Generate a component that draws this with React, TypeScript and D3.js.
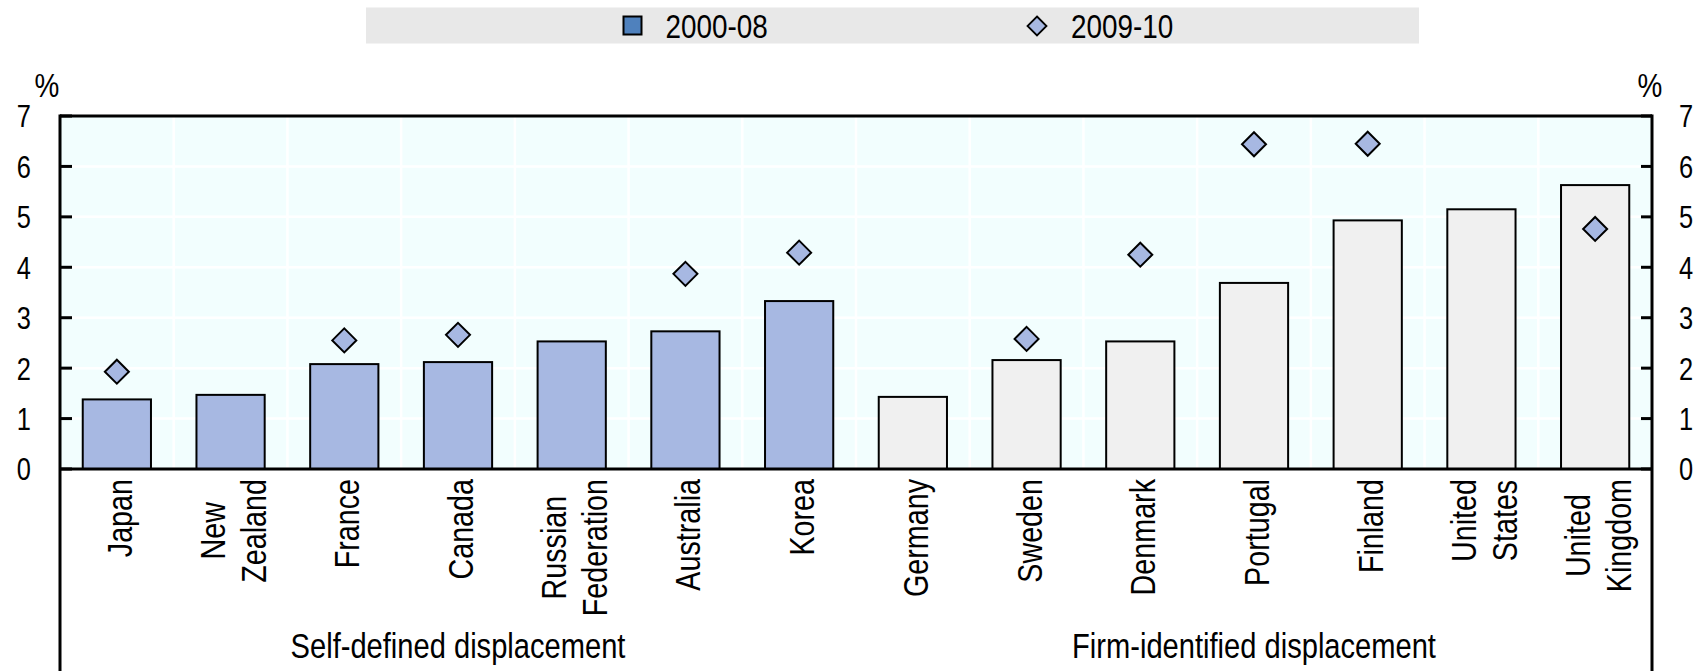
import React, { useMemo } from 'react';
import * as d3 from 'd3';

// chart data
const countries = [
  'Japan', 'New\nZealand', 'France', 'Canada', 'Russian\nFederation', 'Australia', 'Korea',
  'Germany', 'Sweden', 'Denmark', 'Portugal', 'Finland', 'United\nStates', 'United\nKingdom',
];
const groupNames = ['Self-defined displacement', 'Firm-identified displacement'];
const groupSizes = [7, 7];
const rate2000_08 = [1.38, 1.47, 2.08, 2.12, 2.53, 2.73, 3.33, 1.43, 2.16, 2.53, 3.69, 4.93, 5.15, 5.63];
const rate2009_10: (number | null)[] = [1.93, null, 2.55, 2.66, null, 3.87, 4.29, null, 2.58, 4.25, 6.44, 6.45, null, 4.76];
const yTicks = [0, 1, 2, 3, 4, 5, 6, 7];
const legendLabels = ['2000-08', '2009-10'];

const W = 1708;
const H = 671;
const plotLeft = 60;
const plotRight = 1652;
const plotTop = 116;
const zeroY = 469;
const labelTop = 479;
const lineGap = 41;

const FONT = '"Liberation Sans", Arial, sans-serif';
const NARROW = 0.82;
const FS = 34;
const LABEL_FS = 35;
const GROUP_FS = 35.5;

const selfFill = '#A7B8E2';
const firmFill = '#F0F0F0';
const plotBg = '#F2FEFE';

let ctx: CanvasRenderingContext2D | null = null;
function textWidth(t: string, size: number) {
  if (!ctx) ctx = document.createElement('canvas').getContext('2d');
  if (!ctx) return t.length * size * 0.5;
  ctx.font = `${size}px "Liberation Sans", Arial, sans-serif`;
  return ctx.measureText(t).width * NARROW;
}

// narrow text: scale glyphs horizontally in the text's own frame
const NText = ({ x, y, anchor = 'start', size = FS, rotate = 0, dy, children }: any) => (
  <g transform={`translate(${x},${y}) rotate(${rotate}) scale(${NARROW},1)`}>
    <text textAnchor={anchor} dy={dy} fontSize={size} fontFamily={FONT} fill="#000">
      {children}
    </text>
  </g>
);

const diamond = (cx: number, cy: number, r: number) =>
  `M${cx},${cy - r}L${cx + r},${cy}L${cx},${cy + r}L${cx - r},${cy}Z`;

export default function App() {
  const x = useMemo(
    () => d3.scaleBand<string>().domain(countries).range([plotLeft, plotRight]).paddingInner(0.4).paddingOuter(0.2),
    []
  );
  const y = useMemo(() => d3.scaleLinear().domain([0, 7]).range([zeroY, plotTop]), []);
  const step = x.step();
  const boundaries = d3.range(1, countries.length).map(k => plotLeft + k * step);
  const groupEnds = d3.cumsum(groupSizes);

  return (
    <svg width={W} height={H} style={{ position: 'absolute', left: 0, top: 0, background: '#fff' }}>
      {/* legend */}
      <rect x={366} y={7.5} width={1053} height={36} fill="#E8E8E8" />
      <rect x={623.5} y={16.5} width={18} height={18} fill="#4F81BD" stroke="#000" strokeWidth={2} />
      <NText x={665.5} y={37.5}>{legendLabels[0]}</NText>
      <path d={diamond(1037, 26, 9.5)} fill={selfFill} stroke="#000" strokeWidth={1.8} />
      <NText x={1071} y={37.5}>{legendLabels[1]}</NText>

      {/* plot background and grid */}
      <rect x={plotLeft} y={plotTop} width={plotRight - plotLeft} height={zeroY - plotTop} fill={plotBg} />
      {yTicks.slice(1, -1).map(t => (
        <line key={t} x1={plotLeft} x2={plotRight} y1={y(t)} y2={y(t)} stroke="#fff" strokeWidth={2.5} />
      ))}
      {boundaries.map((bx, k) => (
        <line key={k} x1={bx} x2={bx} y1={plotTop} y2={zeroY} stroke="#fff" strokeWidth={2.5} />
      ))}

      {/* bars */}
      {countries.map((c, i) => (
        <rect
          key={c}
          x={x(c)}
          y={y(rate2000_08[i])}
          width={x.bandwidth()}
          height={zeroY - y(rate2000_08[i])}
          fill={i < groupSizes[0] ? selfFill : firmFill}
          stroke="#000"
          strokeWidth={2}
        />
      ))}

      {/* diamonds */}
      {countries.map((c, i) => {
        const v = rate2009_10[i];
        if (v == null) return null;
        return (
          <path
            key={c}
            d={diamond((x(c) as number) + x.bandwidth() / 2, y(v), 12)}
            fill={selfFill}
            stroke="#000"
            strokeWidth={2}
          />
        );
      })}

      {/* frame and axes */}
      <line x1={plotLeft} x2={plotRight} y1={plotTop} y2={plotTop} stroke="#000" strokeWidth={3} />
      <line x1={plotLeft} x2={plotRight} y1={zeroY} y2={zeroY} stroke="#000" strokeWidth={3} />
      <line x1={plotLeft} x2={plotLeft} y1={plotTop - 1.5} y2={H} stroke="#000" strokeWidth={3} />
      <line x1={plotRight} x2={plotRight} y1={plotTop - 1.5} y2={H} stroke="#000" strokeWidth={3} />
      {groupEnds.slice(0, -1).map(g => (
        <line key={g} x1={plotLeft + g * step} x2={plotLeft + g * step} y1={zeroY} y2={H} stroke="#000" strokeWidth={2.5} />
      ))}
      {yTicks.map(t => (
        <g key={t}>
          <line x1={plotLeft} x2={plotLeft + 12} y1={y(t)} y2={y(t)} stroke="#000" strokeWidth={3} />
          <line x1={plotRight - 11} x2={plotRight} y1={y(t)} y2={y(t)} stroke="#000" strokeWidth={3} />
          <NText x={31} y={y(t)} anchor="end" size={31} dy="0.37em">{t}</NText>
          <NText x={1679} y={y(t)} anchor="start" size={31} dy="0.37em">{t}</NText>
        </g>
      ))}
      <NText x={47} y={96.5} anchor="middle">%</NText>
      <NText x={1650} y={96.5} anchor="middle">%</NText>

      {/* category labels */}
      {countries.map(c => {
        const lines = c.split('\n');
        const maxLen = d3.max(lines, l => textWidth(l, LABEL_FS)) as number;
        const cx = (x(c) as number) + x.bandwidth() / 2;
        const cy = labelTop + maxLen / 2;
        return lines.map((l, j) => (
          <NText
            key={c + j}
            x={cx + (j - (lines.length - 1) / 2) * lineGap + 15}
            y={cy}
            rotate={-90}
            anchor="middle"
            size={LABEL_FS}
          >
            {l}
          </NText>
        ));
      })}

      {/* group labels */}
      {groupNames.map((g, k) => {
        const start = k === 0 ? 0 : groupEnds[k - 1];
        const mid = plotLeft + (start + groupSizes[k] / 2) * step;
        return (
          <NText key={g} x={mid} y={658} anchor="middle" size={GROUP_FS}>
            {g}
          </NText>
        );
      })}
    </svg>
  );
}
